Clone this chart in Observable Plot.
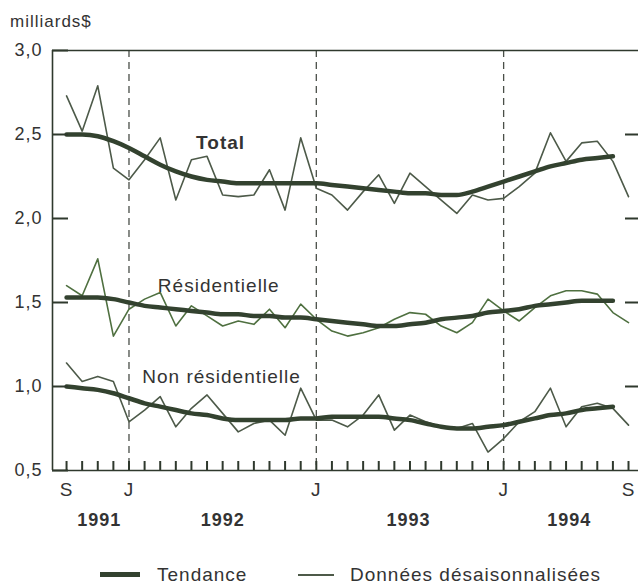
<!DOCTYPE html>
<html>
<head>
<meta charset="utf-8">
<script src="https://cdn.jsdelivr.net/npm/d3@7"></script>
<script src="https://cdn.jsdelivr.net/npm/@observablehq/plot@0.6"></script>
<style>
  body { margin: 0; background: #fff; }
  #wrap { position: relative; width: 638px; height: 586px; font-family: "Liberation Sans", Arial, sans-serif; color: #333; }
  #wrap svg { position: absolute; left: 0; top: 0; font-family: "Liberation Sans", Arial, sans-serif !important; color: #333; }
  #wrap svg text { letter-spacing: 1px; }
  .lbl { position: absolute; white-space: nowrap; line-height: 20px; }
  .sw { position: absolute; }
</style>
</head>
<body>
<div id="wrap"></div>
<script>
// ---- Data (month index 0 = Sept. 1991, 36 = Sept. 1994) ----
const rawMonths = d3.range(0, 37);
const trendMonths = d3.range(0, 36);

const totalRaw = [2.73, 2.52, 2.79, 2.30, 2.23, 2.35, 2.48, 2.11, 2.35, 2.37, 2.14, 2.13, 2.14,
  2.29, 2.05, 2.48, 2.18, 2.14, 2.05, 2.16, 2.26, 2.09, 2.27, 2.19, 2.11, 2.03, 2.14, 2.11, 2.12,
  2.19, 2.27, 2.51, 2.34, 2.45, 2.46, 2.34, 2.13];
const totalTrend = [2.50, 2.50, 2.49, 2.46, 2.42, 2.37, 2.32, 2.28, 2.25, 2.23, 2.22, 2.21, 2.21,
  2.21, 2.21, 2.21, 2.21, 2.20, 2.19, 2.18, 2.17, 2.16, 2.15, 2.15, 2.14, 2.14, 2.16, 2.19, 2.22,
  2.25, 2.28, 2.31, 2.33, 2.35, 2.36, 2.37];

const resRaw = [1.60, 1.54, 1.76, 1.30, 1.46, 1.52, 1.56, 1.36, 1.48, 1.42, 1.36, 1.39, 1.37,
  1.46, 1.35, 1.49, 1.40, 1.33, 1.30, 1.32, 1.35, 1.40, 1.44, 1.43, 1.36, 1.32, 1.38, 1.52, 1.45,
  1.39, 1.47, 1.54, 1.57, 1.57, 1.55, 1.44, 1.38];
const resTrend = [1.53, 1.53, 1.53, 1.52, 1.50, 1.48, 1.47, 1.46, 1.45, 1.44, 1.43, 1.43, 1.42,
  1.42, 1.41, 1.41, 1.40, 1.39, 1.38, 1.37, 1.36, 1.36, 1.37, 1.38, 1.40, 1.41, 1.42, 1.44, 1.45,
  1.46, 1.48, 1.49, 1.50, 1.51, 1.51, 1.51];

const nonresRaw = [1.14, 1.03, 1.06, 1.03, 0.79, 0.86, 0.94, 0.76, 0.87, 0.95, 0.84, 0.73, 0.78,
  0.80, 0.71, 0.99, 0.80, 0.80, 0.76, 0.83, 0.95, 0.74, 0.83, 0.79, 0.76, 0.75, 0.78, 0.61, 0.69,
  0.79, 0.85, 0.99, 0.76, 0.88, 0.90, 0.87, 0.77];
const nonresTrend = [1.00, 0.99, 0.98, 0.96, 0.93, 0.90, 0.88, 0.86, 0.84, 0.83, 0.81, 0.80, 0.80,
  0.80, 0.80, 0.81, 0.81, 0.82, 0.82, 0.82, 0.82, 0.81, 0.80, 0.78, 0.76, 0.75, 0.75, 0.76, 0.77,
  0.79, 0.81, 0.83, 0.84, 0.86, 0.87, 0.88];

// axis / label data
const yTicks = [0.5, 1.0, 1.5, 2.0, 2.5, 3.0];
const rightTicks = [1.0, 1.5, 2.0, 2.5];
const monthTicks = [0, 4, 16, 28, 36];
const monthLabels = ["S", "J", "J", "J", "S"];
const januaries = [4, 16, 28];
const years = ["1991", "1992", "1993", "1994"];
const yearPos = [2.1, 10, 21.9, 32.2];
const seriesNames = ["Total", "Résidentielle", "Non résidentielle"];
const seriesLabelX = [8.3, 5.85, 4.85];
const seriesLabelY = [2.45, 1.60, 1.06];
const xDomain = [-0.9, 36.64];
const yDomain = [0.5, 3.0];

// ---- layout ----
const W = 638, H = 586, mT = 50, mB = 116, mL = 52, mR = 0;
const frameW = W - mL - mR, frameH = H - mT - mB;

// ---- build tables ----
const rows = (xs, vs) => xs.map((x, k) => ({x, v: vs[k]}));
const labelRows = seriesNames.map((name, k) => ({name, x: seriesLabelX[k], y: seriesLabelY[k]}));
const yearRows = years.map((t, k) => ({t, x: yearPos[k]}));

const thin = "#4d5a49";
const thinRes = "#4f7040";
const thick = "#33422f";
const ink = "#2f392d";

const chart = Plot.plot({
  width: W,
  height: H,
  marginTop: mT,
  marginBottom: mB,
  marginLeft: mL,
  marginRight: mR,
  x: {domain: xDomain, axis: null, label: null},
  y: {domain: yDomain, axis: null, label: null},
  marks: [
    Plot.ruleX(januaries, {stroke: "#4a4f48", strokeWidth: 1.3, strokeDasharray: "7,5"}),
    Plot.ruleY([yDomain[0], yDomain[1]], {stroke: ink, strokeWidth: 1.6}),
    Plot.ruleX([xDomain[0]], {stroke: ink, strokeWidth: 1.6}),
    Plot.axisY(yTicks, {anchor: "left", label: null, tickSize: 0, tickPadding: 10, fontSize: 18,
      tickFormat: d => d.toFixed(1).replace(".", ",")}),
    Plot.axisX(monthTicks, {anchor: "bottom", label: null, tickSize: 0, tickPadding: 12, fontSize: 19,
      tickFormat: d => monthLabels[monthTicks.indexOf(d)]}),
    Plot.text(yearRows, {x: "x", text: "t", frameAnchor: "bottom", dy: 55, fontSize: 18, fontWeight: "bold"}),
    Plot.line(rows(rawMonths, totalRaw), {x: "x", y: "v", stroke: thin, strokeWidth: 1.6}),
    Plot.line(rows(rawMonths, resRaw), {x: "x", y: "v", stroke: thinRes, strokeWidth: 1.6}),
    Plot.line(rows(rawMonths, nonresRaw), {x: "x", y: "v", stroke: thin, strokeWidth: 1.6}),
    Plot.line(rows(trendMonths, totalTrend), {x: "x", y: "v", stroke: thick, strokeWidth: 4.5, curve: "monotone-x"}),
    Plot.line(rows(trendMonths, resTrend), {x: "x", y: "v", stroke: thick, strokeWidth: 4.5, curve: "monotone-x"}),
    Plot.line(rows(trendMonths, nonresTrend), {x: "x", y: "v", stroke: thick, strokeWidth: 4.5, curve: "monotone-x"}),
    Plot.text(labelRows.slice(0, 1), {x: "x", y: "y", text: "name", textAnchor: "start", fontSize: 19, fontWeight: "bold"}),
    Plot.text(labelRows.slice(1), {x: "x", y: "y", text: "name", textAnchor: "start", fontSize: 19}),
    // inward ticks, drawn last
    Plot.tickY(yTicks, {y: d => d, insetRight: frameW - 16, stroke: ink, strokeWidth: 2}),
    Plot.tickY(rightTicks, {y: d => d, insetLeft: frameW - 13, stroke: ink, strokeWidth: 2}),
    Plot.tickX(rawMonths, {x: d => d, insetTop: frameH - 9, stroke: ink, strokeWidth: 2})
  ]
});

const wrap = document.getElementById("wrap");
wrap.appendChild(chart);

function addLabel(text, left, top, size) {
  const d = document.createElement("div");
  d.className = "lbl";
  d.textContent = text;
  d.style.left = left + "px";
  d.style.top = top + "px";
  d.style.fontSize = size + "px";
  d.style.letterSpacing = "1px";
  wrap.appendChild(d);
}
function addSwatch(left, top, w, h, color) {
  const d = document.createElement("div");
  d.className = "sw";
  d.style.left = left + "px";
  d.style.top = top + "px";
  d.style.width = w + "px";
  d.style.height = h + "px";
  d.style.background = color;
  wrap.appendChild(d);
}
addLabel("milliards$", 10, 12, 17);
addSwatch(100, 572, 40, 5, thick);
addLabel("Tendance", 157, 565, 19);
addSwatch(298, 574, 36, 1.6, thin);
addLabel("Données désaisonnalisées", 350, 565, 19);
</script>
</body>
</html>
